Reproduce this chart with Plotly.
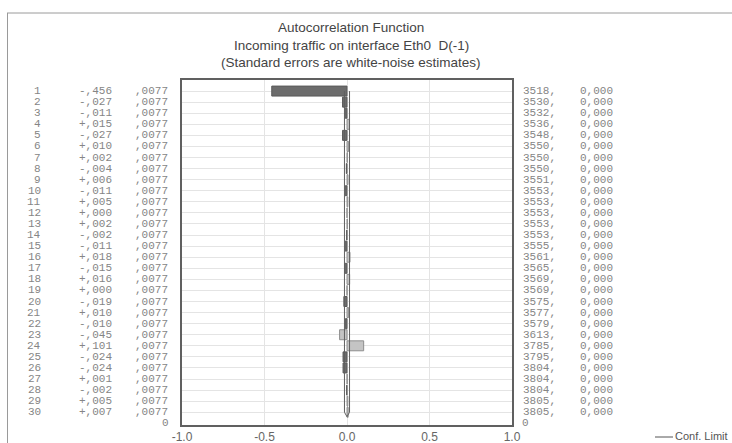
import plotly.graph_objects as go

# ---------------- data ----------------
lags = list(range(1, 31))
corr = [-0.456, -0.027, -0.011, 0.015, -0.027, 0.010, 0.002, -0.004, 0.006, -0.011,
        0.005, 0.000, 0.002, -0.002, -0.011, 0.018, -0.015, 0.016, 0.000, -0.019,
        0.010, -0.010, -0.045, 0.101, -0.024, -0.024, 0.001, -0.002, 0.005, 0.007]
std_err = [0.0077] * 30
box_q = [3518, 3530, 3532, 3536, 3548, 3550, 3550, 3550, 3551, 3553,
         3553, 3553, 3553, 3553, 3555, 3561, 3565, 3569, 3569, 3575,
         3577, 3579, 3613, 3785, 3795, 3804, 3804, 3804, 3805, 3805]
p_values = [0.000] * 30
x_tick_vals = [-1.0, -0.5, 0.0, 0.5, 1.0]
x_tick_text = ["-1.0", "-0.5", "0.0", "0.5", "1.0"]
title_lines = ["Autocorrelation Function",
               "Incoming traffic on interface Eth0  D(-1)",
               "(Standard errors are white-noise estimates)"]
# bar shade per lag (as seen in the printout): d = dark, l = light
bar_shade = ["d", "d", "d", "l", "d", "l", "l", "d", "l", "d",
             "l", "l", "l", "d", "d", "l", "d", "l", "l", "d",
             "l", "d", "l", "l", "d", "d", "l", "d", "l", "l"]

# ---------------- layout geometry ----------------
W, H = 732, 443
L, R, T, B = 182, 512, 80, 425  # plot frame in page pixels


def px(xp):
    return (xp - L) / (R - L)


def py(yp):
    return (B - yp) / (B - T)


def fmt_corr(v):
    sign = "-" if v < 0 else "+"
    return f"{sign},{round(abs(v) * 1000):03d}"


def fmt_se(v):
    return "," + f"{v:.4f}".split(".")[1]


def fmt_p(v):
    return f"{v:.3f}".replace(".", ",")


dark, light = "#6c6c6c", "#c4c4c4"
colors = [dark if s == "d" else light for s in bar_shade]
lines = ["#5a5a5a" if s == "d" else "#8e8e8e" for s in bar_shade]

fig = go.Figure()
fig.add_trace(go.Bar(
    y=lags, x=corr, orientation="h", width=0.9,
    marker=dict(color=colors, line=dict(color=lines, width=1)),
    showlegend=False, hoverinfo="x+y"))

last = lags[-1] + 0.4
fig.add_trace(go.Scatter(
    x=[2 * s for s in std_err] + [0], y=lags + [last], mode="lines",
    line=dict(color="#606060", width=1), showlegend=False, name="Conf. Limit"))
fig.add_trace(go.Scatter(
    x=[-2 * s for s in std_err] + [0], y=lags + [last], mode="lines",
    line=dict(color="#606060", width=1), showlegend=False, name="Conf. Limit"))

ann = []
mono = dict(family="Liberation Mono", size=11, color="#858585")
for i, lag in enumerate(lags):
    ann.append(dict(x=px(43), y=lag, xref="paper", yref="y", xanchor="right",
                    yanchor="middle", text=str(lag), showarrow=False, font=mono))
    ann.append(dict(x=px(114), y=lag, xref="paper", yref="y", xanchor="right",
                    yanchor="middle", text=fmt_corr(corr[i]), showarrow=False, font=mono))
    ann.append(dict(x=px(170), y=lag, xref="paper", yref="y", xanchor="right",
                    yanchor="middle", text=fmt_se(std_err[i]), showarrow=False, font=mono))
    ann.append(dict(x=px(521), y=lag, xref="paper", yref="y", xanchor="left",
                    yanchor="middle", text=f"{box_q[i]},", showarrow=False, font=mono))
    ann.append(dict(x=px(578), y=lag, xref="paper", yref="y", xanchor="left",
                    yanchor="middle", text=fmt_p(p_values[i]), showarrow=False, font=mono))

# column headers
hdr_y = -0.33
for txt, xp, anc in [("Lag", 36, "center"), ("Corr.", 112, "right"), ("S.E.", 170, "right"),
                     ("Q", 542, "center"), ("P", 581, "center")]:
    ann.append(dict(x=px(xp), y=hdr_y, xref="paper", yref="y", xanchor=anc,
                    yanchor="middle", text=txt, showarrow=False, font=mono))
# trailing zero row
for xp, anc in [(171, "right"), (520, "left")]:
    ann.append(dict(x=px(xp), y=lags[-1] + 1, xref="paper", yref="y", xanchor=anc,
                    yanchor="middle", text="0", showarrow=False, font=mono))

# titles
for txt, yp in zip(title_lines, [27, 45, 63]):
    ann.append(dict(x=px(351), y=py(yp), xref="paper", yref="paper", xanchor="center",
                    yanchor="middle", text=txt, showarrow=False,
                    font=dict(family="Liberation Sans", size=13.5, color="#444444")))

# legend entry
ann.append(dict(x=px(673), y=py(436), xref="paper", yref="paper", xanchor="left",
                yanchor="middle", text="Conf. Limit", showarrow=False,
                font=dict(family="Liberation Sans", size=11, color="#555555")))

shapes = [
    dict(type="line", xref="paper", yref="paper", x0=px(655), x1=px(673),
         y0=py(437), y1=py(437), line=dict(color="#555555", width=1)),
    dict(type="line", xref="paper", yref="paper", x0=px(7.5), x1=px(7.5),
         y0=py(13), y1=py(443), line=dict(color="#9a9a9a", width=1)),
    dict(type="line", xref="paper", yref="paper", x0=px(7), x1=px(732),
         y0=py(13), y1=py(13), line=dict(color="#9a9a9a", width=1)),
]

fig.update_layout(
    width=W, height=H,
    margin=dict(l=L, r=W - R, t=T, b=H - B, pad=0),
    paper_bgcolor="white", plot_bgcolor="white",
    annotations=ann, shapes=shapes, bargap=0.1,
    xaxis=dict(range=[-1, 1], tickvals=x_tick_vals, ticktext=x_tick_text,
               showgrid=True, gridcolor="#e4e4e4", zeroline=False,
               showline=True, linecolor="#606060", linewidth=1.5, mirror=True,
               ticks="", automargin=False,
               tickfont=dict(family="Liberation Sans", size=12, color="#666666")),
    yaxis=dict(range=[lags[-1] + 1.15, 0], tickvals=lags, showticklabels=False,
               showgrid=True, gridcolor="#e4e4e4", zeroline=False,
               showline=True, linecolor="#606060", linewidth=1.5, mirror=True,
               ticks="", automargin=False),
)

# remove the default page margin so the 732x443 figure fills the window exactly
fig.write_html(
    "out.html",
    config={"displayModeBar": False},
    post_script="document.body.style.margin='0';"
                "document.body.style.overflow='hidden';"
                "document.documentElement.style.overflow='hidden';")
